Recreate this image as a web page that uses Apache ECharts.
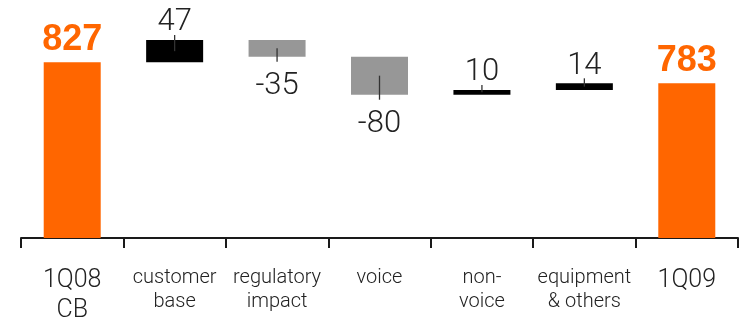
<!DOCTYPE html>
<html>
<head>
<meta charset="utf-8">
<script src="https://cdn.jsdelivr.net/npm/echarts@6/dist/echarts.min.js"></script>
<style>
  html, body { margin: 0; padding: 0; background: #fff; }
  #chart { width: 741px; height: 320px; }
</style>
</head>
<body>
<div id="chart"></div>
<script>
// Waterfall: opening total, movements, closing total
const categories = ['1Q08\nCB', 'customer\nbase', 'regulatory\nimpact', 'voice', 'non-\nvoice', 'equipment\n& others', '1Q09'];
const openingTotal = 827;
const movements = [47, -35, -80, 10, 14];
const closingTotal = 783;

const ORANGE = '#FF6600';
const GREY = '#979797';
const BLACK = '#000000';
const TEXT = '#222222';
const LIGHT_FONT = 'Roboto';

// Build floating segments from the running total
const baseVals = [0];
const barVals = [openingTotal];
const spans = [null];
let running = openingTotal;
movements.forEach(function (m) {
  const next = running + m;
  baseVals.push(Math.min(running, next));
  barVals.push(Math.abs(m));
  spans.push({ from: running, to: next, delta: m });
  running = next;
});
baseVals.push(0);
barVals.push(closingTotal);
spans.push(null);

const totalLabel = {
  show: true, position: 'top', distance: 4,
  color: ORANGE, fontFamily: 'Liberation Sans', fontWeight: 'bold', fontSize: 36
};

const barData = barVals.map(function (v, i) {
  const s = spans[i];
  if (!s) {
    return { value: v, itemStyle: { color: ORANGE }, label: totalLabel };
  }
  const up = s.delta > 0;
  return {
    value: v,
    itemStyle: { color: up ? BLACK : GREY },
    label: {
      show: true,
      position: up ? 'top' : 'bottom',
      distance: up ? 2 : 14,
      formatter: String(s.delta),
      color: TEXT, fontFamily: LIGHT_FONT, fontWeight: 300, fontSize: 31
    }
  };
});

// Small leader tick from each movement's middle to just past its outer edge
const tickData = spans.map(function (s, i) {
  return s ? [i, (s.from + s.to) / 2, s.to, s.delta > 0 ? 1 : -1] : [i, NaN, NaN, 0];
}).filter(function (d) { return !isNaN(d[1]); });

const chart = echarts.init(document.getElementById('chart'), null, { renderer: 'canvas' });
chart.setOption({
  animation: false,
  backgroundColor: '#fff',
  grid: { left: 21, right: 3, top: 0, bottom: 82, containLabel: false, outerBoundsMode: 'none' },
  xAxis: {
    type: 'category',
    data: categories,
    boundaryGap: true,
    axisLine: { lineStyle: { color: '#1a1a1a', width: 2 } },
    axisTick: { show: true, interval: 0, length: 10, lineStyle: { color: '#1a1a1a', width: 2 } },
    axisLabel: {
      interval: 0,
      margin: 28,
      formatter: function (val, idx) {
        const big = idx === 0 || idx === categories.length - 1;
        return val.split('\n').map(function (ln) { return '{' + (big ? 'b' : 's') + '|' + ln + '}'; }).join('\n');
      },
      rich: {
        b: { fontFamily: LIGHT_FONT, fontWeight: 300, fontSize: 25, lineHeight: 30, color: TEXT },
        s: { fontFamily: LIGHT_FONT, fontWeight: 300, fontSize: 20, lineHeight: 24, color: TEXT }
      }
    }
  },
  yAxis: { type: 'value', min: 458, max: 958, show: false, splitLine: { show: false } },
  series: [
    {
      name: 'base', type: 'bar', stack: 'w', barWidth: 57, clip: true,
      itemStyle: { color: 'transparent' }, emphasis: { disabled: true },
      data: baseVals
    },
    {
      name: 'value', type: 'bar', stack: 'w', barWidth: 57, clip: true,
      emphasis: { disabled: true },
      data: barData
    },
    {
      name: 'tick', type: 'custom', z: 5,
      renderItem: function (params, api) {
        const mid = api.coord([api.value(0), api.value(1)]);
        const end = api.coord([api.value(0), api.value(2)]);
        const dir = api.value(3);
        return {
          type: 'line',
          shape: { x1: mid[0], y1: mid[1], x2: end[0], y2: end[1] - dir * 5 },
          style: { stroke: '#333333', lineWidth: 1.3 }
        };
      },
      data: tickData
    }
  ]
});
</script>
</body>
</html>
